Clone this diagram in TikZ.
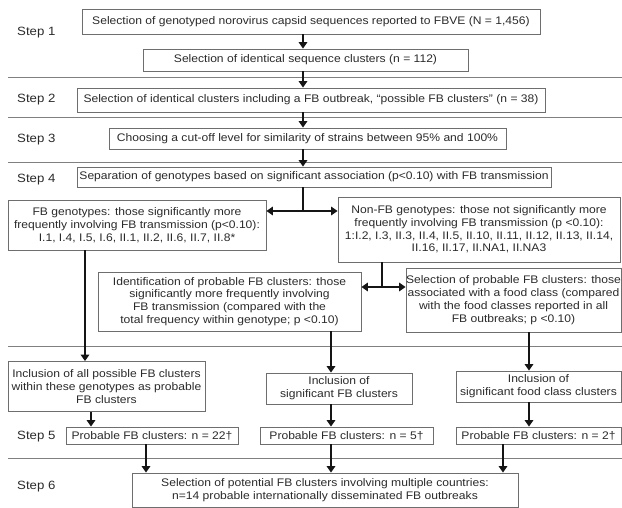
\documentclass[tikz,border=0pt]{standalone}
\usepackage{fontspec}
\setmainfont{Liberation Sans}[FakeStretch=1.1]
\usetikzlibrary{arrows.meta}
\definecolor{boxline}{HTML}{6E6E6E}
\definecolor{sepline}{HTML}{808080}
\definecolor{txt}{HTML}{2A2A2A}
\definecolor{arrcol}{HTML}{151515}
\tikzset{
  stepbox/.style={draw=boxline, line width=0.8pt, rectangle, inner sep=0pt, align=center,
    text=txt, font=\fontsize{11}{12.8}\selectfont},
  steplabel/.style={anchor=west, inner sep=0pt, text=txt, font=\fontsize{12}{13}\selectfont},
  sepline/.style={draw=sepline, line width=0.9pt},
  arr/.style={draw=arrcol, line width=2.6pt, -{Triangle[width=8.5pt,length=6.5pt]}},
  dblarr/.style={draw=arrcol, line width=2.6pt, {Triangle[width=8.5pt,length=6.5pt]}-{Triangle[width=8.5pt,length=6.5pt]}},
  stem/.style={draw=arrcol, line width=2.6pt}
}
\begin{document}
\begin{tikzpicture}[x=1pt,y=-1pt]
\useasboundingbox (0,0) rectangle (622,508);
% separators
\draw[sepline] (8,77) -- (622,77);
\draw[sepline] (8,117) -- (622,117);
\draw[sepline] (8,162) -- (622,162);
\draw[sepline] (8,346) -- (622,346);
\draw[sepline] (8,458) -- (622,458);
% step labels
\node[steplabel] (s1) at (17,33) {Step 1};
\node[steplabel] (s2) at (17,100) {Step 2};
\node[steplabel] (s3) at (17,140) {Step 3};
\node[steplabel] (s4) at (17,180) {Step 4};
\node[steplabel] (s5) at (17,436.5) {Step 5};
\node[steplabel] (s6) at (17,487) {Step 6};
% boxes
\node[stepbox, minimum width=458pt, minimum height=25pt] (b1) at (311,21.5)
  {Selection of genotyped norovirus capsid sequences reported to FBVE (N = 1,456)};
\node[stepbox, minimum width=325pt, minimum height=22pt] (b2) at (305.5,60)
  {Selection of identical sequence clusters (n = 112)};
\node[stepbox, minimum width=468pt, minimum height=24pt] (b3) at (311,100)
  {Selection of identical clusters including a FB outbreak, ``possible FB clusters'' (n = 38)};
\node[stepbox, minimum width=397pt, minimum height=21pt] (b4) at (307.5,138.5)
  {Choosing a cut-off level for similarity of strains between 95\% and 100\%};
\node[stepbox, minimum width=474pt, minimum height=20pt] (b5) at (314,177)
  {Separation of genotypes based on significant association (p<0.10) with FB transmission};
\node[stepbox, minimum width=258pt, minimum height=50pt] (fbg) at (137,225)
  {FB genotypes: those significantly more\\frequently involving FB transmission (p<0.10):\\I.1, I.4, I.5, I.6, II.1, II.2, II.6, II.7, II.8*};
\node[stepbox, minimum width=282pt, minimum height=65pt] (nfb) at (479,229.5)
  {Non-FB genotypes: those not significantly more\\frequently involving FB transmission (p <0.10):\\1:I.2, I.3, II.3, II.4, II.5, II.10, II.11, II.12, II.13, II.14,\\II.16, II.17, II.NA1, II.NA3};
\node[stepbox, minimum width=263pt, minimum height=59pt] (idf) at (229.5,301.5)
  {Identification of probable FB clusters: those\\significantly more frequently involving\\FB transmission (compared with the\\total frequency within genotype; p <0.10)};
\node[stepbox, minimum width=215pt, minimum height=64pt] (food) at (513.5,300)
  {Selection of probable FB clusters: those\\associated with a food class (compared\\with the food classes reported in all\\FB outbreaks; p <0.10)};
\node[stepbox, minimum width=197pt, minimum height=50pt] (inca) at (106.5,386.5)
  {Inclusion of all possible FB clusters\\within these genotypes as probable\\FB clusters};
\node[stepbox, minimum width=146pt, minimum height=31pt] (incs) at (339,388.5)
  {Inclusion of\\significant FB clusters};
\node[stepbox, minimum width=165pt, minimum height=31pt] (incf) at (538.5,386.5)
  {Inclusion of\\significant food class clusters};
\node[stepbox, minimum width=172pt, minimum height=17pt] (p22) at (152,435.5)
  {Probable FB clusters: n = 22†};
\node[stepbox, minimum width=173pt, minimum height=17pt] (p5) at (346.5,435.5)
  {Probable FB clusters: n = 5†};
\node[stepbox, minimum width=165pt, minimum height=17pt] (p2) at (538.5,435.5)
  {Probable FB clusters: n = 2†};
\node[stepbox, minimum width=386pt, minimum height=34pt] (fin) at (325,490)
  {Selection of potential FB clusters involving multiple countries:\\n=14 probable internationally disseminated FB outbreaks};
% x positions of connectors
\coordinate (xm) at (303,0);
\coordinate (j1) at (303,211);
\coordinate (j2) at (382,287);
\coordinate (xa) at (85,0);
\coordinate (xb) at (91,0);
\coordinate (xc) at (331,0);
\coordinate (xd) at (529,0);
\coordinate (xe) at (146,0);
\coordinate (xf) at (503,0);
% connectors
\draw[arr] (b1.south -| xm) -- (b2.north -| xm);
\draw[arr] (b2.south -| xm) -- (b3.north -| xm);
\draw[arr] (b3.south -| xm) -- (b4.north -| xm);
\draw[arr] (b4.south -| xm) -- (b5.north -| xm);
\draw[stem] (b5.south -| j1) -- (j1);
\draw[dblarr] (fbg.east |- j1) -- (nfb.west |- j1);
\draw[stem] (nfb.south -| j2) -- (j2);
\draw[dblarr] (idf.east |- j2) -- (food.west |- j2);
\draw[arr] (fbg.south -| xa) -- (inca.north -| xa);
\draw[arr] (idf.south -| xc) -- (incs.north -| xc);
\draw[arr] (food.south -| xd) -- (incf.north -| xd);
\draw[arr] (inca.south -| xb) -- (p22.north -| xb);
\draw[arr] (incs.south -| xc) -- (p5.north -| xc);
\draw[arr] (incf.south -| xd) -- (p2.north -| xd);
\draw[arr] (p22.south -| xe) -- (fin.north -| xe);
\draw[arr] (p5.south -| xc) -- (fin.north -| xc);
\draw[arr] (p2.south -| xf) -- (fin.north -| xf);
\end{tikzpicture}
\end{document}
